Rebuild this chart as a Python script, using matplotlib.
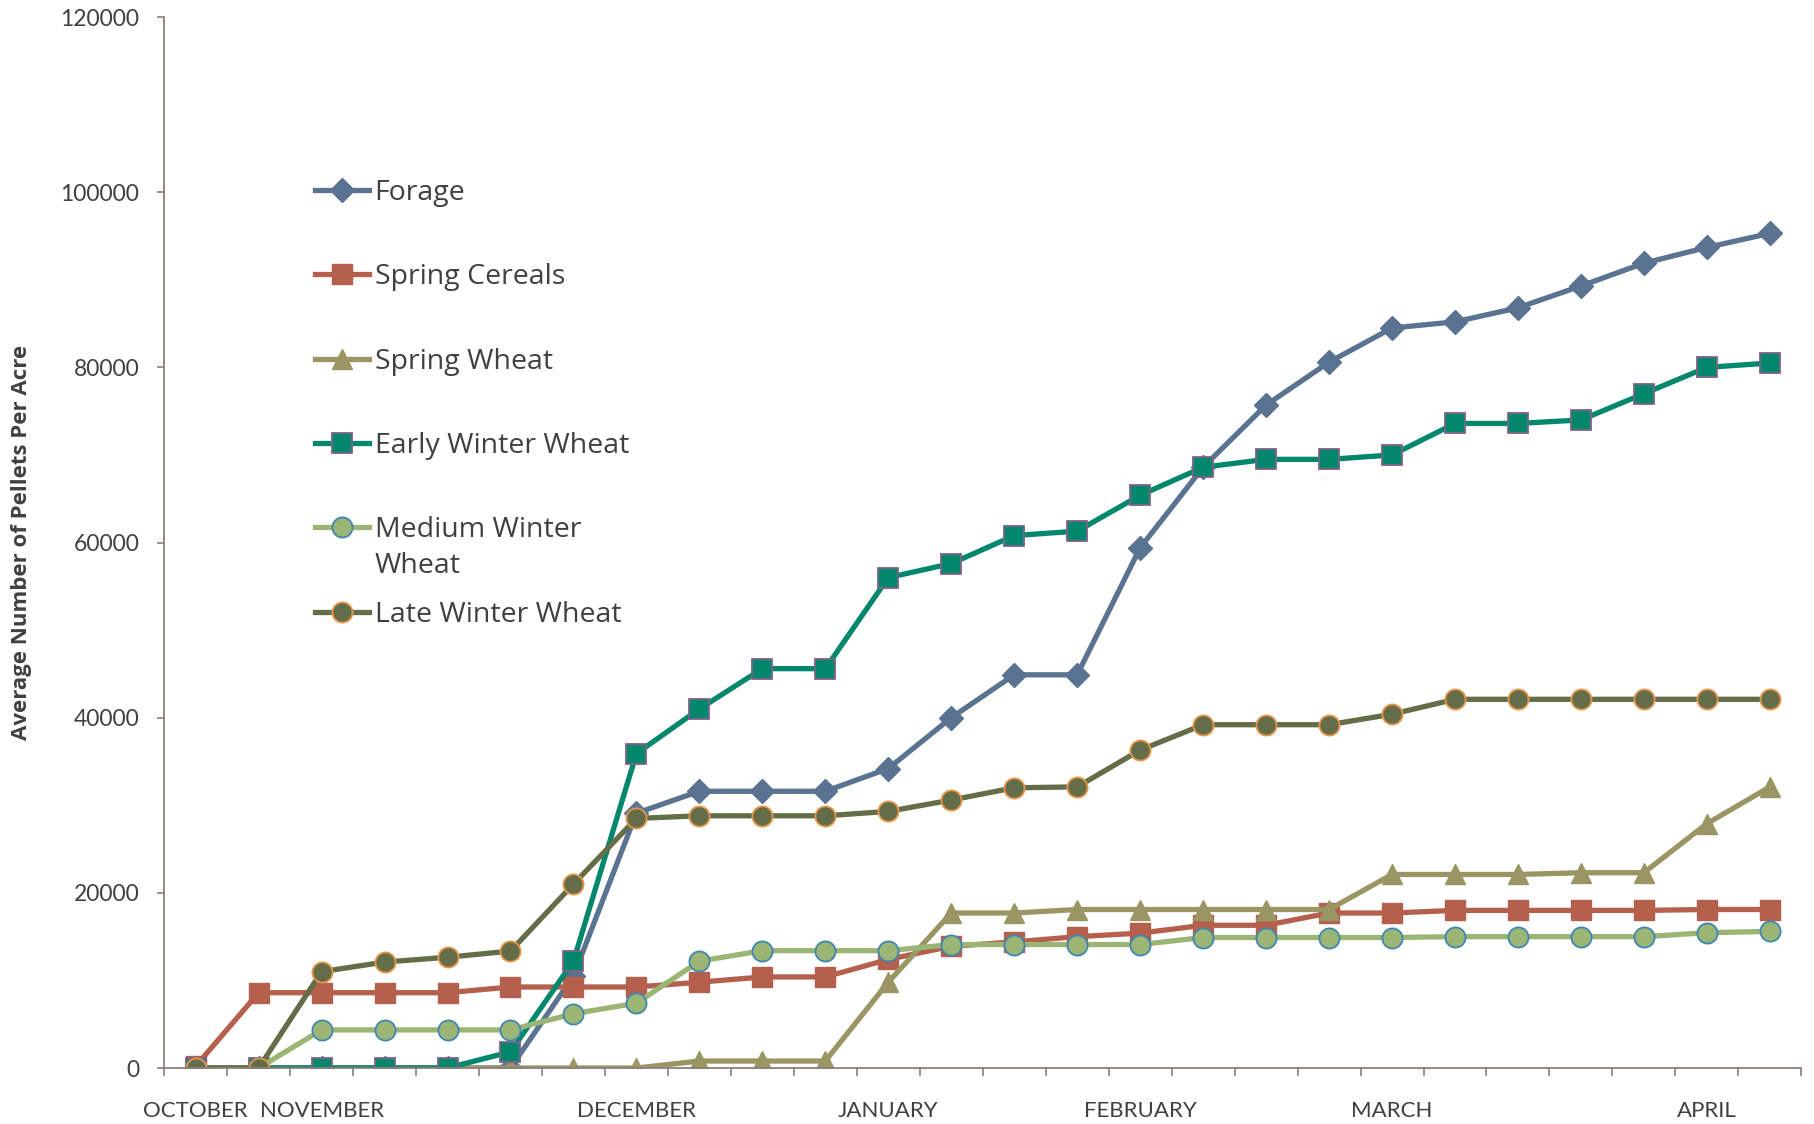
import numpy as np
import matplotlib.pyplot as plt
from matplotlib.ticker import FixedLocator, NullFormatter

# 26 sampling dates, only some carry a month label
months = ['OCTOBER', '', 'NOVEMBER', '', '', '', '', 'DECEMBER', '', '', '', 'JANUARY', '', '',
          '', 'FEBRUARY', '', '', '', 'MARCH', '', '', '', '', 'APRIL', '']

forage = [0, 0, 0, 0, 0, 0, 10500, 29100, 31600, 31600, 31600, 34200, 40000, 44900, 44900,
          59400, 68600, 75700, 80600, 84500, 85200, 86800, 89300, 91900, 93700, 95300]
spring_cereals = [200, 8600, 8600, 8600, 8600, 9250, 9250, 9250, 9800, 10400, 10400, 12400, 13900,
                  14400, 15000, 15400, 16300, 16300, 17700, 17700, 18000, 18000, 18000, 18000,
                  18100, 18100]
spring_wheat = [0, 0, 0, 0, 0, 0, 0, 0, 800, 800, 800, 9800, 17700, 17700, 18100, 18100, 18100,
                18100, 18100, 22100, 22100, 22100, 22300, 22300, 27900, 32100]
early_winter = [0, 0, 0, 0, 0, 1850, 12200, 35900, 41000, 45600, 45600, 56000, 57600, 60800,
                61300, 65400, 68600, 69500, 69500, 70000, 73600, 73600, 74000, 77000, 80000, 80500]
medium_winter = [0, 0, 4350, 4350, 4350, 4350, 6200, 7400, 12200, 13400, 13400, 13400, 14100,
                 14100, 14100, 14100, 14900, 14900, 14900, 14900, 15000, 15000, 15000, 15000,
                 15450, 15600]
late_winter = [0, 0, 11000, 12100, 12650, 13350, 21000, 28500, 28800, 28800, 28800, 29300, 30600,
               32000, 32100, 36300, 39200, 39200, 39200, 40400, 42100, 42100, 42100, 42100, 42100,
               42100]

x = np.arange(len(months))

fig = plt.figure(figsize=(18.14, 11.24), dpi=100)
ax = fig.add_axes([0.0905, 0.0498, 0.9025, 0.935])

lw = 3.8
ms = 14.5
ax.plot(x, forage, color='#5a7391', lw=lw, marker='D', ms=12, mec='#5a7391', label='Forage')
ax.plot(x, spring_cereals, color='#b5604c', lw=lw, marker='s', ms=ms, mec='#b5604c',
        label='Spring Cereals')
ax.plot(x, spring_wheat, color='#9a9664', lw=lw, marker='^', ms=ms, mec='#9a9664',
        label='Spring Wheat')
ax.plot(x, early_winter, color='#00876c', lw=lw, marker='s', ms=ms, mec='#80628a', mew=1.3,
        label='Early Winter Wheat')
ax.plot(x, medium_winter, color='#9bb574', lw=lw, marker='o', ms=ms, mec='#3f86b3', mew=1.3,
        label='Medium Winter')
ax.plot(x, late_winter, color='#636d47', lw=lw, marker='o', ms=ms, mec='#e8954a', mew=1.3,
        label='Late Winter Wheat')

axis_col = '#8c7f7c'
for side in ['top', 'right']:
    ax.spines[side].set_visible(False)
for side in ['left', 'bottom']:
    ax.spines[side].set_color(axis_col)
    ax.spines[side].set_linewidth(1.3)

ax.set_xlim(-0.5, len(months) - 0.5)
ax.set_ylim(0, 120000)
ax.set_yticks(np.arange(0, 120001, 20000))
ax.set_xticks(x)
ax.set_xticklabels(months)
ax.xaxis.set_minor_locator(FixedLocator(np.arange(-0.5, len(months), 1.0)))
ax.xaxis.set_minor_formatter(NullFormatter())
ax.tick_params(axis='x', which='major', length=0, pad=24, labelsize=16, labelcolor='#404040')
ax.tick_params(axis='x', which='minor', length=6, width=1.2, color=axis_col, direction='out')
ax.tick_params(axis='y', length=5, width=1.2, color=axis_col, pad=13, labelsize=16.5,
               labelcolor='#404040')
for lab in ax.get_xticklabels() + ax.get_yticklabels():
    lab.set_family('Lato')

ax.set_ylabel('Average Number of Pellets Per Acre', fontsize=16, fontweight='bold',
              color='#404040', labelpad=20, family='Open Sans')

leg = ax.legend(loc='upper left', bbox_to_anchor=(0.085, 0.857), frameon=False,
                prop={'family': 'Open Sans', 'size': 20.5}, labelspacing=1.98,
                handlelength=1.9, handletextpad=0.2, borderaxespad=0)
for t in leg.get_texts():
    t.set_color('#404040')

# second line of the "Medium Winter Wheat" entry hangs below its row, as in the original
fig.canvas.draw()
mw = leg.get_texts()[4]
bb = mw.get_window_extent().transformed(fig.transFigure.inverted())
fig.text(bb.x0, bb.y0 - 0.007, 'Wheat', ha='left', va='top', fontsize=20.5,
         family='Open Sans', color='#404040')

fig.savefig('out.png', dpi=100)
